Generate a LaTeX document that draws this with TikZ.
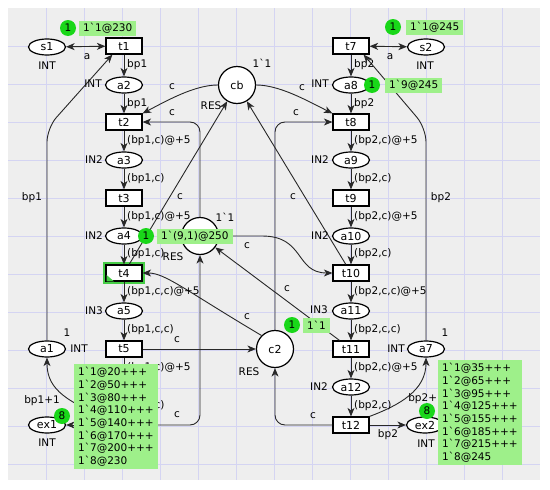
\documentclass[tikz,border=0pt]{standalone}
\usepackage{fontspec}
\newfontfamily\cpn{DejaVu Sans}
\usetikzlibrary{arrows.meta,shapes.geometric}
\definecolor{panel}{RGB}{238,238,238}
\definecolor{gridc}{RGB}{212,212,242}
\definecolor{markfill}{RGB}{158,240,138}
\definecolor{tokfill}{RGB}{25,215,25}
\definecolor{hilite}{RGB}{70,205,70}
\definecolor{arcc}{RGB}{40,40,40}
\begin{document}
\begin{tikzpicture}[x=1pt,y=-1pt,
  every node/.style={font=\cpn\fontsize{10.5}{12.7}\selectfont},
  nodefont/.style={font=\cpn\fontsize{11}{13}\selectfont},
  trans/.style={nodefont,draw=black,line width=1.2pt,fill=white,rectangle,minimum width=36pt,minimum height=16pt,inner sep=0pt},
  ghosttrans/.style={rectangle,minimum width=36pt,minimum height=16pt,inner sep=0pt},
  ghostplace/.style={ellipse,minimum width=37pt,minimum height=16pt,inner sep=0pt},
  place/.style={nodefont,draw=black,line width=1.2pt,fill=white,ellipse,minimum width=37pt,minimum height=16pt,inner sep=0pt},
  res/.style={nodefont,draw=black,line width=1.2pt,fill=white,circle,minimum size=37pt,inner sep=0pt},
  arc/.style={draw=arcc,line width=0.9pt,-{Stealth[length=8.5pt,width=7pt,inset=2.5pt]}},
  biarc/.style={draw=arcc,line width=0.9pt,{Stealth[length=8.5pt,width=7pt,inset=2.5pt]}-{Stealth[length=8.5pt,width=7pt,inset=2.5pt]}},
  lbl/.style={inner sep=0pt},
  markbox/.style={fill=markfill,inner xsep=4pt,inner ysep=2pt,anchor=west,minimum height=15pt},
  tok/.style={circle,fill=tokfill,minimum size=16pt,inner sep=0pt}
]
\useasboundingbox (0,0) rectangle (550,490);
\fill[panel] (8,8) rectangle (540,480);
\foreach \x in {46,84,...,502} \draw[gridc,line width=0.7pt] (\x,8) -- (\x,480);
\foreach \y in {46,84,...,464} \draw[gridc,line width=0.7pt] (8,\y) -- (540,\y);

% nodes
\node[place] (s1) at (47,47) {s1};
\node[trans] (t1) at (124,46) {t1};
\node[trans] (t7) at (351,46) {t7};
\node[place] (s2) at (426,47) {s2};
\node[place] (a2) at (124,85) {a2};
\node[res] (cb) at (237,85) {cb};
\node[place] (a8) at (351,85) {a8};
\node[trans] (t2) at (124,122) {t2};
\node[trans] (t8) at (351,122) {t8};
\node[place] (a3) at (124,160) {a3};
\node[place] (a9) at (351,160) {a9};
\node[trans] (t3) at (124,198) {t3};
\node[trans] (t9) at (351,198) {t9};
\node[place] (a4) at (124,236) {a4};
\node[res] (c1) at (200,236) {};
\node[place] (a10) at (351,236) {a10};
\draw[hilite,line width=3pt] (104.5,263.5) rectangle (143.5,282.5);
\node[trans] (t4) at (124,273) {t4};
\fill[hilite] (106.6,281.4) -- (114,281.4) -- (106.6,275) -- cycle;
\node[trans] (t10) at (351,273) {t10};
\node[place] (a5) at (124,311) {a5};
\node[place] (a11) at (351,311) {a11};
\node[place] (a1) at (47,349) {a1};
\node[trans] (t5) at (124,349) {t5};
\node[res] (c2) at (275,349) {c2};
\node[trans] (t11) at (351,349) {t11};
\node[place] (a7) at (426,349) {a7};
\node[ghostplace] (a6) at (124,387) {};
\node[place] (a12) at (351,387) {a12};
\node[place] (ex1) at (47,425) {ex1};
\node[ghosttrans] (t6) at (124,425) {};
\node[trans] (t12) at (351,425) {t12};
\node[place] (ex2) at (425,425) {ex2};

% arcs
\draw[biarc] (s1) -- (t1);
\draw[biarc] (t7) -- (s2);
\foreach \u/\v in {t1/a2,a2/t2,t2/a3,a3/t3,t3/a4,a4/t4,t4/a5,a5/t5,t5/a6,a6/t6,t7/a8,a8/t8,t8/a9,a9/t9,t9/a10,a10/t10,t10/a11,a11/t11,t11/a12,a12/t12}
  \draw[arc] (\u) -- (\v);
\draw[arc,rounded corners=14pt] (a1.north) -- (47,128) -- ([xshift=7pt]t1.south west);
\draw[arc,rounded corners=14pt] (a7.north) -- (426,128) -- ([xshift=-6pt]t7.south east);
\draw[arc] (cb.west) .. controls (195,85) and (168,100) .. (t2.north east);
\draw[arc] (cb.east) .. controls (279,85) and (306,100) .. (t8.north west);
\draw[arc,rounded corners=10pt] (c1.north) |- (t2.east);
\draw[arc,rounded corners=10pt] (c2.north) |- (t8.west);
\draw[arc] (t4) -- (cb);
\draw[arc] (t10) -- (cb);
\draw[arc] (c1.east) -- (262,236) .. controls (305,236) and (295,273) .. (t10.west);
\draw[arc] (t11) -- (c1);
\draw[arc] (c2.north west) .. controls (185,290) and (165,273) .. (t4.east);
\draw[arc] (t5) -- (c2);
\draw[arc,rounded corners=10pt] (t12.west) -| (c2.south);
\draw[arc,rounded corners=10pt] (t6.east) -| (c1.south);
\draw[arc] (t6) -- (ex1);
\draw[arc] (t12) -- (ex2);
\draw[arc] (t6.north west) .. controls (60,400) and (47,385) .. (a1.south);
\draw[arc] (t12.north east) .. controls (400,405) and (426,390) .. (a7.south);

% type / initial marking labels
\node[lbl] (ls1) at (47,66) {INT};
\node[lbl] (ls2) at (425,66) {INT};
\node[lbl] (la2) at (93,84) {INT};
\node[lbl] (la8) at (320,84) {INT};
\node[lbl] (icb) at (262,63) {1`1};
\node[lbl] (rcb) at (211,106) {RES};
\node[lbl] (la3) at (94,160) {IN2};
\node[lbl] (la9) at (320,160) {IN2};
\node[lbl] (la4) at (94,236) {IN2};
\node[lbl] (la10) at (320,236) {IN2};
\node[lbl] (ic1) at (225,217) {1`1};
\node[lbl] (rc1) at (173,257) {RES};
\node[lbl] (la5) at (94,311) {IN3};
\node[lbl] (la11) at (319,310) {IN3};
\node[lbl] (ia1) at (67,333) {1};
\node[lbl] (la1) at (79,349) {INT};
\node[lbl] (ia7) at (445,333) {1};
\node[lbl] (la7) at (396,349) {INT};
\node[lbl] (rc2) at (249,372) {RES};
\node[lbl] (la12) at (319,387) {IN2};
\node[lbl] (lex1) at (47,443) {INT};
\node[lbl] (lex2) at (426,444) {INT};

% arc inscriptions
\node[lbl] (i1) at (87,57) {a};
\node[lbl] (i2) at (390,57) {a};
\node[lbl,anchor=west] (i3) at (127,65) {bp1};
\node[lbl,anchor=west] (i4) at (127,104) {bp1};
\node[lbl,anchor=west] (i5) at (127,141) {(bp1,c)@+5};
\node[lbl,anchor=west] (i6) at (127,179) {(bp1,c)};
\node[lbl,anchor=west] (i7) at (127,217) {(bp1,c)@+5};
\node[lbl,anchor=west] (i8) at (127,254) {(bp1,c)};
\node[lbl,anchor=west] (i9) at (127,292) {(bp1,c,c)@+5};
\node[lbl,anchor=west] (i10) at (127,330) {(bp1,c,c)};
\node[lbl,anchor=west] (i11) at (127,368) {(bp1,c)@+5};
\node[lbl,anchor=west] (i12) at (127,406) {(bp1,c)};
\node[lbl,anchor=west] (j3) at (354,65) {bp2};
\node[lbl,anchor=west] (j4) at (354,104) {bp2};
\node[lbl,anchor=west] (j5) at (354,141) {(bp2,c)@+5};
\node[lbl,anchor=west] (j6) at (354,179) {(bp2,c)};
\node[lbl,anchor=west] (j7) at (354,217) {(bp2,c)@+5};
\node[lbl,anchor=west] (j8) at (354,254) {(bp2,c)};
\node[lbl,anchor=west] (j9) at (354,292) {(bp2,c,c)@+5};
\node[lbl,anchor=west] (j10) at (354,330) {(bp2,c,c)};
\node[lbl,anchor=west] (j11) at (354,368) {(bp2,c)@+5};
\node[lbl,anchor=west] (j12) at (354,406) {(bp2,c)};
\node[lbl] (k1) at (32,198) {bp1};
\node[lbl] (k2) at (441,198) {bp2};
\node[lbl] (k3) at (172,87) {c};
\node[lbl] (k4) at (172,113) {c};
\node[lbl] (k5) at (302,88) {c};
\node[lbl] (k6) at (296,113) {c};
\node[lbl] (k7) at (180,197) {c};
\node[lbl] (k8) at (293,197) {c};
\node[lbl] (k9) at (247,246) {c};
\node[lbl] (k10) at (287,289) {c};
\node[lbl] (k11) at (247,317) {c};
\node[lbl] (k12) at (177,340) {c};
\node[lbl] (k13) at (177,415) {c};
\node[lbl] (k14) at (313,416) {c};
\node[lbl] (k15) at (42,401) {bp1+1};
\node[lbl] (k16) at (426,399) {bp2+1};
\node[lbl] (k17) at (388,435) {bp2};

% current markings
\node[tok] (g1) at (68,28) {1};
\node[markbox] (m1) at (79,28.5) {1`1@230};
\node[tok] (g2) at (393,27) {1};
\node[markbox] (m2) at (406,27.5) {1`1@245};
\node[tok] (g3) at (372,85) {1};
\node[markbox] (m3) at (385,85) {1`9@245};
\node[tok] (g4) at (146,236) {1};
\node[markbox] (m4) at (157,236.5) {1`(9,1)@250};
\node[tok] (g5) at (292,325) {1};
\node[markbox] (m5) at (303,325.5) {1`1};
\node[markbox,anchor=north west,align=left,inner ysep=3pt] (m6) at (74,364) {1`1@20+++\\1`2@50+++\\1`3@80+++\\1`4@110+++\\1`5@140+++\\1`6@170+++\\1`7@200+++\\1`8@230};
\node[tok] (g6) at (62,416) {8};
\node[markbox,anchor=north west,align=left,inner ysep=3pt] (m7) at (438,360) {1`1@35+++\\1`2@65+++\\1`3@95+++\\1`4@125+++\\1`5@155+++\\1`6@185+++\\1`7@215+++\\1`8@245};
\node[tok] (g7) at (427,411) {8};
\end{tikzpicture}
\end{document}
